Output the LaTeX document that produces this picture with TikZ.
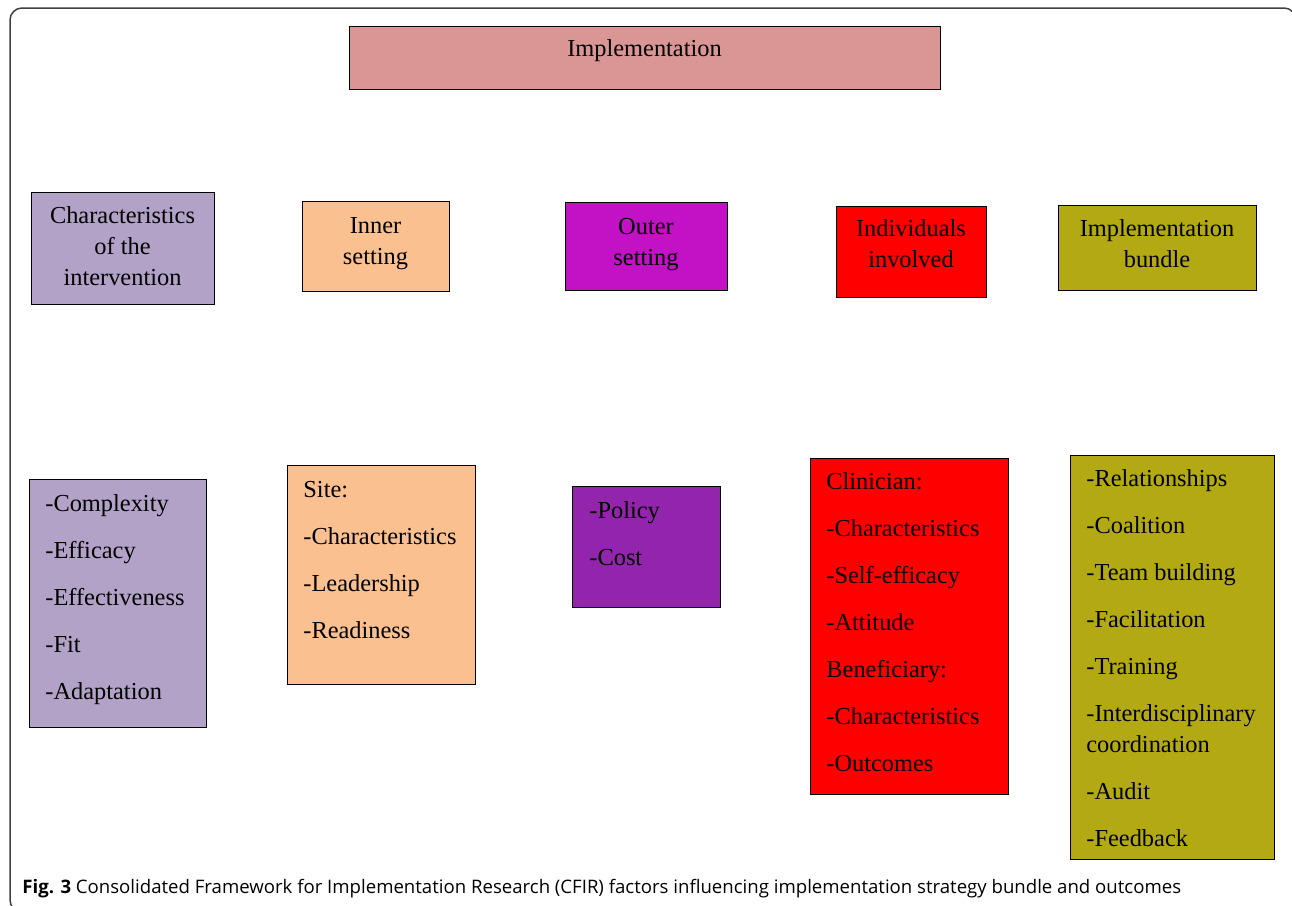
\documentclass[tikz,border=0pt]{standalone}
\usepackage{fontspec}
\setmainfont{Liberation Serif}
\newfontfamily\capfont{Open Sans}
\usepackage{tikz}

\definecolor{implpink}{RGB}{217,150,148}
\definecolor{lavender}{RGB}{179,162,199}
\definecolor{peach}{RGB}{250,192,144}
\definecolor{outermag}{RGB}{195,17,197}
\definecolor{policypurple}{RGB}{147,36,172}
\definecolor{indred}{RGB}{255,0,0}
\definecolor{olive}{RGB}{179,170,19}

\begin{document}
\begin{tikzpicture}[x=0.5pt,y=-0.5pt]
            \useasboundingbox (0,0) rectangle (1292,906);
            \draw[black!75, line width=0.75pt, rounded corners=6pt] (10,8) rectangle (1296,912);

            % boxes
            \begin{scope}[every node/.style={draw=black, line width=0.7pt, anchor=north west, inner sep=0pt}]
                \node[fill=implpink, minimum width=295.5pt, minimum height=31.5pt] (impl) at (349,26) {};

                \node[fill=lavender, minimum width=91.5pt, minimum height=56pt] (char) at (31,192) {};
                \node[fill=peach, minimum width=73.5pt, minimum height=45pt] (inner) at (302,201) {};
                \node[fill=outermag, minimum width=81pt, minimum height=44pt] (outer) at (565,202) {};
                \node[fill=indred, minimum width=75pt, minimum height=45.5pt] (indiv) at (836,206) {};
                \node[fill=olive, minimum width=99pt, minimum height=42.5pt] (bundle) at (1058,205) {};

                \node[fill=lavender, minimum width=88.5pt, minimum height=124pt] (charlist) at (29,479) {};
                \node[fill=peach, minimum width=94pt, minimum height=109.5pt] (innerlist) at (287,465) {};
                \node[fill=policypurple, minimum width=74pt, minimum height=60.5pt] (outerlist) at (572,486) {};
                \node[fill=indred, minimum width=99pt, minimum height=168pt] (indivlist) at (810,458) {};
                \node[fill=olive, minimum width=102pt, minimum height=202pt] (bundlelist) at (1070,455) {};
            \end{scope}

            % texts (lists sit on the baseline of their last line)
            \begin{scope}[every node/.style={font=\fontsize{12.2}{15.5}\selectfont, inner sep=0pt}]
                \node[anchor=base] (impl-t) at (644.5,56) {Implementation};

                \node[align=center] (char-t) at (122.5,246) {Characteristics\\of the\\intervention};
                \node[align=center] (inner-t) at (375.5,243.5) {Inner\\setting};
                \node[align=center] (outer-t) at (646,245) {Outer\\setting};
                \node[align=center] (indiv-t) at (911,244) {Individuals\\involved};
                \node[align=center] (bundle-t) at (1157,244) {Implementation\\bundle};

                \node[align=left, anchor=base west] (charlist-t) at (45,699)
                    {-Complexity\\[8pt]-Efficacy\\[8pt]-Effectiveness\\[8pt]-Fit\\[8pt]-Adaptation};
                \node[align=left, anchor=base west] (innerlist-t) at (303,638)
                    {Site:\\[8pt]-Characteristics\\[8pt]-Leadership\\[8pt]-Readiness};
                \node[align=left, anchor=base west] (outerlist-t) at (589,565)
                    {-Policy\\[8pt]-Cost};
                \node[align=left, anchor=base west] (indivlist-t) at (826,771)
                    {Clinician:\\[8pt]-Characteristics\\[8pt]-Self-efficacy\\[8pt]-Attitude\\[8pt]Beneficiary:\\[8pt]-Characteristics\\[8pt]-Outcomes};
                \node[align=left, anchor=base west] (bundlelist-t) at (1086,846)
                    {-Relationships\\[8pt]-Coalition\\[8pt]-Team building\\[8pt]-Facilitation\\[8pt]-Training\\[8pt]-Interdisciplinary\\coordination\\[8pt]-Audit\\[8pt]-Feedback};
            \end{scope}

            \node[anchor=base west, inner sep=0pt, font=\capfont\fontsize{9.3}{11}\selectfont] (caption) at (22,893)
                {\textbf{Fig. 3} Consolidated Framework for Implementation Research (CFIR) factors influencing implementation strategy bundle and outcomes};
        \end{tikzpicture}
\end{document}
